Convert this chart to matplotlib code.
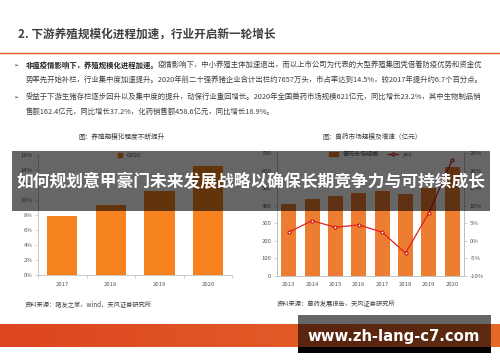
import numpy as np
import matplotlib
matplotlib.use('Agg')
from matplotlib import pyplot as plt
from matplotlib.patches import Rectangle
from matplotlib.lines import Line2D
from matplotlib.colors import LinearSegmentedColormap

plt.rcParams['font.family'] = ['Noto Sans CJK SC', 'DejaVu Sans']

# data
title = '2. 下游养殖规模化进程加速，行业开启新一轮增长'
bullet1_bold = '非瘟疫情影响下，养殖规模化进程加速。'
bullet1_rest = '疫情影响下，中小养殖主体加速退出，而以上市公司为代表的大型养殖集团凭借着防疫优势和资金优'
bullet1_line2 = '势率先开始补栏，行业集中度加速提升。2020年前二十强养猪企业合计出栏约7657万头，市占率达到14.5%，较2017年提升约6.7个百分点。'
bullet2_line1 = '受益于下游生猪存栏逐步回升以及集中度的提升，动保行业重回增长。2020年全国兽药市场规模621亿元，同比增长23.2%，其中生物制品销'
bullet2_line2 = '售额162.4亿元，同比增长37.2%，化药销售额458.6亿元，同比增长18.9%。'
banner = '如何规划意甲豪门未来发展战略以确保长期竞争力与可持续成长'
watermark = 'www.zh-lang-c7.com'

left_title = '图：养殖规模化程度不断提升'
left_years = ['2017', '2018', '2019', '2020']
cr20 = [7.8, 9.3, 11.1, 14.5]
left_source = '资料来源：猪友之家，wind，天风证券研究所'

right_title = '图：兽药市场规模及增速（亿元）'
right_years = ['2013', '2014', '2015', '2016', '2017', '2018', '2019', '2020']
market = [412, 436, 453, 473, 484, 467, 504, 621]
yoy = [2.4, 5.7, 3.8, 4.5, 2.4, -3.6, 8.0, 23.2]
right_source = '资料来源：兽药发展报告，天风证券研究所'

W, H = 500, 362
fig = plt.figure(figsize=(W / 100, H / 100), dpi=100)


def box(x0, y0, x1, y1):
    return [x0 / W, 1 - y1 / H, (x1 - x0) / W, (y1 - y0) / H]


axis_col = '#bfbfbf'
tick_col = '#595959'
fs_tick = 4.3


def style(ax):
    for s in ax.spines.values():
        s.set_color(axis_col)
        s.set_linewidth(0.6)
    ax.tick_params(colors=axis_col, labelcolor=tick_col, labelsize=fs_tick,
                   length=2, width=0.5, pad=2)


# left chart
axl = fig.add_axes(box(38, 154.7, 232.4, 274.7))
xl = np.arange(len(left_years))
axl.bar(xl, cr20, width=0.62, color='#f5821f')
axl.set_xlim(-0.5, len(left_years) - 0.5)
axl.set_ylim(0, 16)
axl.set_yticks(np.arange(0, 17, 2))
axl.set_yticklabels([f'{v}%' for v in range(0, 17, 2)])
axl.set_xticks(xl)
axl.set_xticklabels(left_years)
axl.set_xticks(np.arange(-0.5, len(left_years)), minor=True)
axl.spines['top'].set_visible(False)
axl.spines['right'].set_visible(False)
style(axl)
axl.tick_params(axis='x', which='major', length=0, pad=5)
axl.tick_params(axis='x', which='minor', length=2, width=0.5, color=axis_col)
axl.legend(handles=[Rectangle((0, 0), 1, 1, color='#f5821f')], labels=['CR20'],
           loc='upper center', bbox_to_anchor=(0.47, 1.06), frameon=False,
           fontsize=fs_tick, handlelength=0.6, handleheight=0.6, labelcolor=tick_col)

# right chart
axr = fig.add_axes(box(277, 153.3, 464, 275.5))
xr = np.arange(len(right_years))
axr.bar(xr, market, width=0.64, color='#ed7d31')
axr.set_xlim(-0.5, len(right_years) - 0.5)
axr.set_ylim(0, 700)
axr.set_yticks(np.arange(0, 701, 100))
axr.set_xticks(xr)
axr.set_xticklabels(right_years)
axr.spines['top'].set_visible(False)
style(axr)
axr.tick_params(axis='x', length=0, pad=5)
ax2 = axr.twinx()
ax2.plot(xr, yoy, color='#e02020', lw=0.9, marker='o', ms=2.2,
         mfc='white', mec='#c00000', mew=0.7)
ax2.set_ylim(-10, 25)
ax2.set_yticks(np.arange(-10, 26, 5))
ax2.set_yticklabels([f'{v}%' for v in range(-10, 26, 5)])
ax2.spines['top'].set_visible(False)
style(ax2)
axr.legend(handles=[Rectangle((0, 0), 1, 1, color='#ed7d31'),
                    Line2D([], [], color='#e02020', lw=0.9, marker='o', ms=2.2,
                           mfc='white', mec='#c00000', mew=0.7)],
           labels=['兽药市场规模', 'yoy'], ncol=2, loc='upper center',
           bbox_to_anchor=(0.5, 1.06), frameon=False, fontsize=fs_tick,
           handlelength=1.6, handleheight=0.6, columnspacing=1.5, labelcolor=tick_col)

# overlay for page decoration
ov = fig.add_axes([0, 0, 1, 1], zorder=10)
ov.set_xlim(0, W)
ov.set_ylim(H, 0)
ov.axis('off')
ov.patch.set_alpha(0)

dark = '#404040'
ov.text(18, 34, title, fontsize=8.4, fontweight='bold', color=dark, va='center')
ov.plot([0, W], [53.3, 53.3], color='#e85a2a', lw=1.0)

fs_b = 5.3
bul_fam = ['DejaVu Sans', 'Noto Sans CJK SC']
for y in (65, 97):
    ov.text(13, y, '➢', fontsize=4.5, color=dark, va='center', family=bul_fam)
t1 = ov.text(25.5, 65, bullet1_bold, fontsize=fs_b, fontweight='bold', color='#262626', va='center')
fig.canvas.draw()
bb = t1.get_window_extent()
x_after = bb.x1 * 100 / fig.dpi
ov.text(x_after, 65, bullet1_rest, fontsize=fs_b, color=dark, va='center')
ov.text(25.5, 80, bullet1_line2, fontsize=fs_b, color=dark, va='center')
ov.text(25.5, 97, bullet2_line1, fontsize=fs_b, color=dark, va='center')
ov.text(25.5, 111.5, bullet2_line2, fontsize=fs_b, color=dark, va='center')

ov.text(122, 137, left_title, fontsize=4.8, color='#404040', ha='center', va='center')
ov.text(372, 137, right_title, fontsize=4.8, color='#404040', ha='center', va='center')
ov.text(25, 304, left_source, fontsize=4.5, color='#404040', va='center')
ov.text(277, 304, right_source, fontsize=4.5, color='#404040', va='center')

# bottom orange band
grad = LinearSegmentedColormap.from_list('band', ['#dc4520', '#e56a2a'])
ov.imshow(np.linspace(0, 1, 256)[None, :], cmap=grad, aspect='auto',
          extent=(0, W, 346.7, 324), zorder=1)

# banner across the charts
ov.add_patch(Rectangle((12, 151), 477.5, 60, color='black', alpha=0.6, lw=0, zorder=3))
ov.text(250.5, 182, banner, fontsize=12.1, fontweight='bold', color='white',
        ha='center', va='center', zorder=4)

# watermark box
ov.add_patch(Rectangle((298, 315), 192.5, 37.5, color='black', alpha=0.6, lw=0, zorder=3))
ov.add_patch(Rectangle((298, 347), 192.5, 5.5, color='black', lw=0, zorder=3))
ov.text(394, 336, watermark, fontsize=10.7, fontweight='bold', color='white',
        ha='center', va='center', family=['DejaVu Sans'], zorder=4)

ov.set_xlim(0, W)
ov.set_ylim(H, 0)
fig.savefig('out.png', dpi=100)
